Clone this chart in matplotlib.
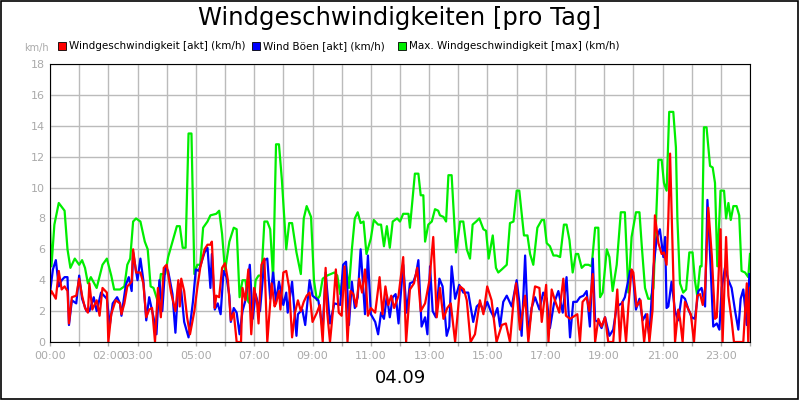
import matplotlib
matplotlib.use("Agg")
import matplotlib.pyplot as plt
from matplotlib.patches import Rectangle

title = "Windgeschwindigkeiten [pro Tag]"
date_label = "04.09"
series_names = ["Windgeschwindigkeit [akt] (km/h)", "Wind Böen [akt] (km/h)", "Max. Windgeschwindigkeit [max] (km/h)"]
tick_hours = [0, 2, 3, 5, 7, 9, 11, 13, 15, 17, 19, 21, 23]
tick_labels = ["00:00", "02:00", "03:00", "05:00", "07:00", "09:00", "11:00", "13:00", "15:00", "17:00", "19:00", "21:00", "23:00"]

green_t = [0,.05,.15,.3,.5,.6,.7,.85,1.0,1.1,1.2,1.3,1.4,1.6,1.8,1.95,2.1,2.2,2.4,2.55,2.65,2.75,2.85,2.95,3.1,3.25,3.35,3.45,3.55,3.7,3.8,3.95,4.05,4.2,4.35,4.45,4.55,4.65,4.75,4.85,4.95,5.05,5.15,5.25,5.4,5.5,5.7,5.8,5.9,6.0,6.15,6.3,6.4,6.5,6.6,6.7,6.8,6.9,6.95,7.05,7.15,7.25,7.35,7.45,7.55,7.65,7.75,7.85,7.95,8.1,8.2,8.3,8.45,8.6,8.7,8.8,8.95,9.05,9.15,9.25,9.35,9.5,9.75,9.85,9.95,10.05,10.15,10.25,10.35,10.45,10.55,10.65,10.75,10.85,11.0,11.1,11.25,11.35,11.45,11.55,11.65,11.75,11.9,
           12.00,12.11,12.29,12.34,12.51,12.63,12.71,12.80,12.86,12.97,13.09,13.20,13.31,13.37,13.49,13.58,13.66,13.77,13.92,14.06,14.17,14.29,14.40,14.49,14.61,14.72,14.86,14.95,15.04,15.18,15.29,15.37,15.49,15.60,15.66,15.77,15.89,16.00,16.09,16.25,16.37,16.46,16.57,16.71,16.86,16.94,17.03,17.14,17.26,17.37,17.49,17.62,17.71,17.81,17.92,18.03,18.11,18.23,18.34,18.46,18.57,18.69,18.80,18.86,18.95,19.09,19.18,19.29,19.43,19.57,19.71,19.83,19.94,20.09,20.21,20.29,20.40,20.51,20.59,20.69,20.86,20.97,21.05,21.14,21.23,21.37,21.46,21.51,21.60,21.71,21.81,21.92,22.03,22.11,22.19,22.29,22.34,22.42,22.51,22.63,22.72,22.80,22.88,22.99,23.11,23.18,23.26,23.34,23.43,23.54,23.63,23.71,23.83,23.94,24.00]
green_v = [7.5,4.9,7.6,9.0,8.5,6,4.8,5.4,5.0,5.3,4.8,3.8,4.2,3.5,5.0,5.4,4.3,3.4,3.4,3.6,5.0,5.4,7.8,8.0,7.8,6.5,6.0,3.6,3.5,2.6,4.4,4.4,5.5,6.5,7.5,7.5,6.1,6.1,13.5,13.5,4.4,5.0,5.0,7.4,7.8,8.2,8.3,8.5,7.0,4.6,6.5,7.4,7.3,2.9,4.0,4.0,2.6,2.4,1.8,4.0,4.3,4.3,7.8,7.8,7.3,4.1,12.8,12.8,10.5,6.0,7.7,7.7,5.8,4.4,8.0,8.8,8.1,4.0,2.7,3.0,4.1,4.3,4.5,4.3,3.1,4.4,4.9,3.5,6.0,8.0,8.4,7.7,7.8,5.7,6.7,7.9,7.6,7.6,6.2,7.5,6.1,7.8,8.0,
           7.8,8.3,8.3,7.4,10.9,10.9,9.5,9.5,6.5,7.6,7.8,8.6,8.5,8.2,8.1,7.8,10.8,10.8,5.8,7.8,7.8,6.0,5.4,7.6,7.8,8.0,7.3,7.2,5.4,6.9,4.8,4.5,4.7,4.9,5.0,7.7,7.8,9.8,9.8,6.9,6.9,5.7,5.0,7.4,7.9,7.9,6.4,6.2,5.6,5.6,5.5,7.6,7.6,6.6,4.5,5.7,5.7,4.8,5.0,5.0,4.9,7.4,7.4,2.9,3.2,6.0,5.5,3.3,5.0,8.4,8.4,3.2,6.8,8.4,8.4,6.2,3.5,2.8,2.8,3.5,11.8,11.8,10.3,9.8,14.9,14.9,12.6,8.0,3.8,3.2,3.4,5.8,5.8,4.0,3.0,4.9,4.9,13.9,13.9,11.4,11.3,10.3,4.9,9.8,9.8,8.0,9.0,7.9,8.8,8.8,8.2,4.6,4.5,4.2,5.7]

red_t = [0,.05,.2,.3,.4,.5,.6,.65,.75,.9,1.0,1.1,1.2,1.3,1.35,1.45,1.6,1.7,1.8,1.95,2.0,2.1,2.25,2.4,2.45,2.55,2.65,2.8,2.85,2.95,3.1,3.2,3.3,3.4,3.5,3.6,3.7,3.8,3.9,4.0,4.15,4.3,4.4,4.45,4.5,4.6,4.7,4.8,4.95,5.05,5.15,5.3,5.4,5.5,5.55,5.65,5.7,5.8,5.9,6.0,6.1,6.2,6.3,6.4,6.55,6.6,6.7,6.8,6.9,7.0,7.1,7.15,7.25,7.35,7.45,7.6,7.7,7.75,7.85,7.9,8.0,8.1,8.2,8.3,8.4,8.5,8.6,8.7,8.8,8.9,9.0,9.15,9.25,9.35,9.45,9.5,9.6,9.7,9.8,9.9,10.0,10.1,10.2,10.3,10.4,10.5,10.6,10.7,10.8,10.9,11.0,11.15,11.3,11.4,11.5,11.6,11.7,11.8,11.95,
         12.11,12.21,12.34,12.48,12.59,12.71,12.86,13.01,13.14,13.26,13.37,13.49,13.62,13.74,13.89,14.06,14.19,14.29,14.42,14.57,14.74,14.86,14.99,15.14,15.31,15.49,15.63,15.77,15.89,15.98,16.11,16.29,16.40,16.51,16.63,16.78,16.86,17.01,17.09,17.20,17.31,17.46,17.60,17.69,17.83,18.00,18.08,18.17,18.26,18.40,18.49,18.61,18.69,18.80,18.91,19.03,19.14,19.31,19.45,19.54,19.63,19.75,19.83,19.94,20.00,20.11,20.25,20.37,20.48,20.55,20.66,20.74,20.86,20.97,21.05,21.14,21.20,21.26,21.35,21.43,21.54,21.60,21.69,21.77,21.89,21.97,22.08,22.19,22.29,22.38,22.46,22.57,22.69,22.80,22.86,22.99,23.06,23.18,23.26,23.37,23.45,23.63,23.77,23.89,23.94,24.00]
red_v = [3.0,3.3,2.8,4.6,3.4,3.6,3.3,1.2,2.9,3.0,4.1,3.0,2.2,1.9,3.8,2.1,2.7,1.7,3.5,3.2,0,1.8,2.7,2.5,1.8,2.5,3.6,3.9,6.0,4.5,4.5,3.8,1.6,2.1,2.2,0,3.5,1.6,4.8,5.0,3.2,2.0,4.0,2.3,4.1,3.3,1.6,0.5,2.0,3.5,4.8,6.0,6.3,6.3,6.5,2.2,3.0,2.9,4.8,5.1,4.0,1.4,1.9,0,0,3.5,2.7,4.7,0.5,3.5,2.5,1.2,5.0,5.4,0,3.8,2.3,2.5,3.3,2.1,4.5,4.6,3.5,0.3,1.9,2.7,2.0,2.6,3.0,3.2,1.3,1.9,2.4,0,4.8,2.0,0,2.0,4.7,1.9,1.7,4.9,0,3.3,3.1,2.3,4.1,3.2,4.7,1.7,2.2,1.9,4.2,1.8,3.6,2.4,3.0,2.2,3.0,
         5.5,0,3.4,3.8,4.8,2.0,2.5,4.0,6.8,1.6,3.5,1.5,2.2,2.5,0,3.6,3.4,2.7,0,0.5,2.7,1.8,3.6,2.7,0,1.1,1.2,0,2.6,3.8,0.8,3.0,0,2.1,3.6,3.5,1.3,3.7,0,3.4,2.7,1.9,4.1,1.7,1.5,1.7,1.8,0,2.6,2.9,2.0,4.4,0,1.5,1.0,1.6,0,0,3.4,0,2.6,0,2.3,4.7,4.5,2.3,2.7,0,1.8,0,2.1,8.2,6.4,5.7,5.8,5.0,8.0,12.2,5.8,0,2.1,1.5,0,2.6,2.1,1.8,0,3.0,3.1,2.4,3.5,8.7,5.6,1.5,1.6,7.3,0,6.8,3.0,1.4,0,0,0,3.8,0,3.5]

blue_t = [0,.1,.2,.3,.4,.5,.6,.65,.75,.9,1.0,1.1,1.25,1.35,1.5,1.6,1.75,1.95,2.05,2.15,2.3,2.4,2.45,2.6,2.7,2.8,2.85,3.0,3.1,3.2,3.3,3.4,3.55,3.65,3.75,3.85,3.95,4.05,4.2,4.3,4.4,4.5,4.6,4.75,4.9,5.0,5.1,5.3,5.4,5.5,5.55,5.65,5.75,5.85,5.95,6.05,6.15,6.2,6.3,6.4,6.5,6.6,6.7,6.85,6.95,7.05,7.2,7.35,7.45,7.55,7.65,7.75,7.85,8.0,8.1,8.15,8.3,8.45,8.5,8.65,8.75,8.9,9.0,9.2,9.35,9.45,9.6,9.75,9.95,10.05,10.15,10.25,10.35,10.45,10.55,10.65,10.8,10.9,11.0,11.15,11.25,11.35,11.45,11.55,11.65,11.75,11.85,11.95,
          12.00,12.11,12.23,12.34,12.46,12.55,12.63,12.74,12.86,12.94,13.03,13.12,13.23,13.35,13.46,13.60,13.69,13.77,13.89,14.03,14.17,14.34,14.51,14.63,14.74,14.88,14.99,15.11,15.22,15.34,15.43,15.54,15.66,15.83,16.00,16.09,16.17,16.29,16.40,16.51,16.63,16.78,16.91,17.03,17.14,17.28,17.43,17.58,17.71,17.83,17.94,18.06,18.17,18.29,18.40,18.51,18.61,18.69,18.80,18.91,19.03,19.18,19.31,19.43,19.60,19.71,19.89,19.98,20.09,20.21,20.32,20.43,20.55,20.69,20.80,20.91,21.03,21.09,21.14,21.20,21.31,21.43,21.54,21.66,21.77,21.89,22.00,22.11,22.23,22.34,22.46,22.54,22.63,22.74,22.86,22.95,23.03,23.14,23.26,23.37,23.49,23.60,23.68,23.77,23.89,23.98]
blue_v = [3.2,4.7,5.3,3.6,4.0,4.2,4.2,1.1,2.7,2.5,4.3,2.8,2.0,2.0,2.9,2.0,3.2,2.8,1.1,2.5,2.9,2.5,1.7,3.7,4.2,3.3,5.8,4.0,5.4,4.0,1.4,2.9,1.6,0.5,4.0,2.0,4.9,4.6,3.1,0.6,3.8,3.3,1.3,0.3,2.6,4.7,4.6,5.8,6.1,3.5,5.7,2.1,2.5,1.8,4.6,4.2,3.0,1.3,2.2,1.9,0.5,2.0,2.7,5.0,1.5,3.1,2.0,5.3,5.4,2.8,4.5,2.6,3.9,2.4,3.2,1.9,3.9,0.4,1.8,2.1,1.1,4.0,3.0,2.7,0.8,4.5,1.2,2.5,2.4,5.0,5.2,1.1,3.9,2.2,2.9,6.0,1.8,5.6,1.8,1.3,0.5,1.9,1.5,3.0,1.6,2.9,3.1,1.2,
          2.5,5.0,1.9,3.8,3.9,4.4,5.3,1.0,1.6,0.5,4.9,2.0,1.6,4.1,3.6,0.4,1.0,4.9,2.8,3.7,3.2,3.2,1.3,2.3,2.5,2.0,2.6,2.0,1.6,2.2,1.0,2.6,3.0,2.3,4.0,2.6,0.4,5.6,0.4,2.2,2.9,2.1,3.2,2.8,0.9,2.5,3.3,1.9,4.2,0.3,2.6,2.6,2.9,3.0,3.3,1.0,5.4,1.4,1.3,0.9,1.6,0.4,0.8,2.3,2.5,2.9,4.6,4.5,2.1,2.8,1.4,1.8,0.4,4.8,6.7,7.3,5.5,6.8,2.2,2.3,3.9,2.0,1.4,3.0,2.8,2.1,1.6,1.5,3.3,3.5,2.3,9.2,5.7,1.0,1.2,0.8,3.5,4.8,4.0,3.5,2.0,0.8,2.8,3.4,1.1,4.4]

RED, BLUE, GREEN = "#ff0000", "#0000ff", "#00ee00"
fig = plt.figure(figsize=(8, 4), dpi=100)
fig.patches.append(Rectangle((0.001, 0.002), 0.997, 0.995, transform=fig.transFigure,
                             fill=False, edgecolor="black", linewidth=1.2))
ax = fig.add_axes([0.0625, 0.145, 0.875, 0.695])
ax.plot(green_t, green_v, color=GREEN, lw=1.6)
ax.plot(blue_t, blue_v, color=BLUE, lw=1.6)
ax.plot(red_t, red_v, color=RED, lw=1.6)
ax.set_xlim(0, 24)
ax.set_ylim(0, 18)
ax.set_yticks(range(0, 19, 2))
ax.grid(True, color="#bbbbbb", lw=1)
ax.set_xticks(range(0, 25))
ax.set_xticklabels([tick_labels[tick_hours.index(h)] if h in tick_hours else "" for h in range(25)])
ax.tick_params(axis="both", colors="#aaaaaa", labelsize=8, length=3, width=1)
ax.tick_params(axis="y", length=0)
for s in ax.spines.values():
    s.set_color("black")
ax.set_axisbelow(True)

fig.text(0.5, 0.955, title, ha="center", va="center", fontsize=17.5)
fig.text(0.5, 0.055, date_label, ha="center", va="center", fontsize=13)
fig.text(0.03, 0.88, "km/h", ha="left", va="center", fontsize=7, color="#aaaaaa")
leg_x = [0.072, 0.315, 0.497]
for x, name, c in zip(leg_x, series_names, [RED, BLUE, GREEN]):
    fig.patches.append(Rectangle((x, 0.875), 0.01, 0.02, transform=fig.transFigure,
                                 facecolor=c, edgecolor="black", lw=0.6))
    fig.text(x + 0.014, 0.886, name, ha="left", va="center", fontsize=7.5)
fig.savefig("out.png", dpi=100, facecolor="white")
